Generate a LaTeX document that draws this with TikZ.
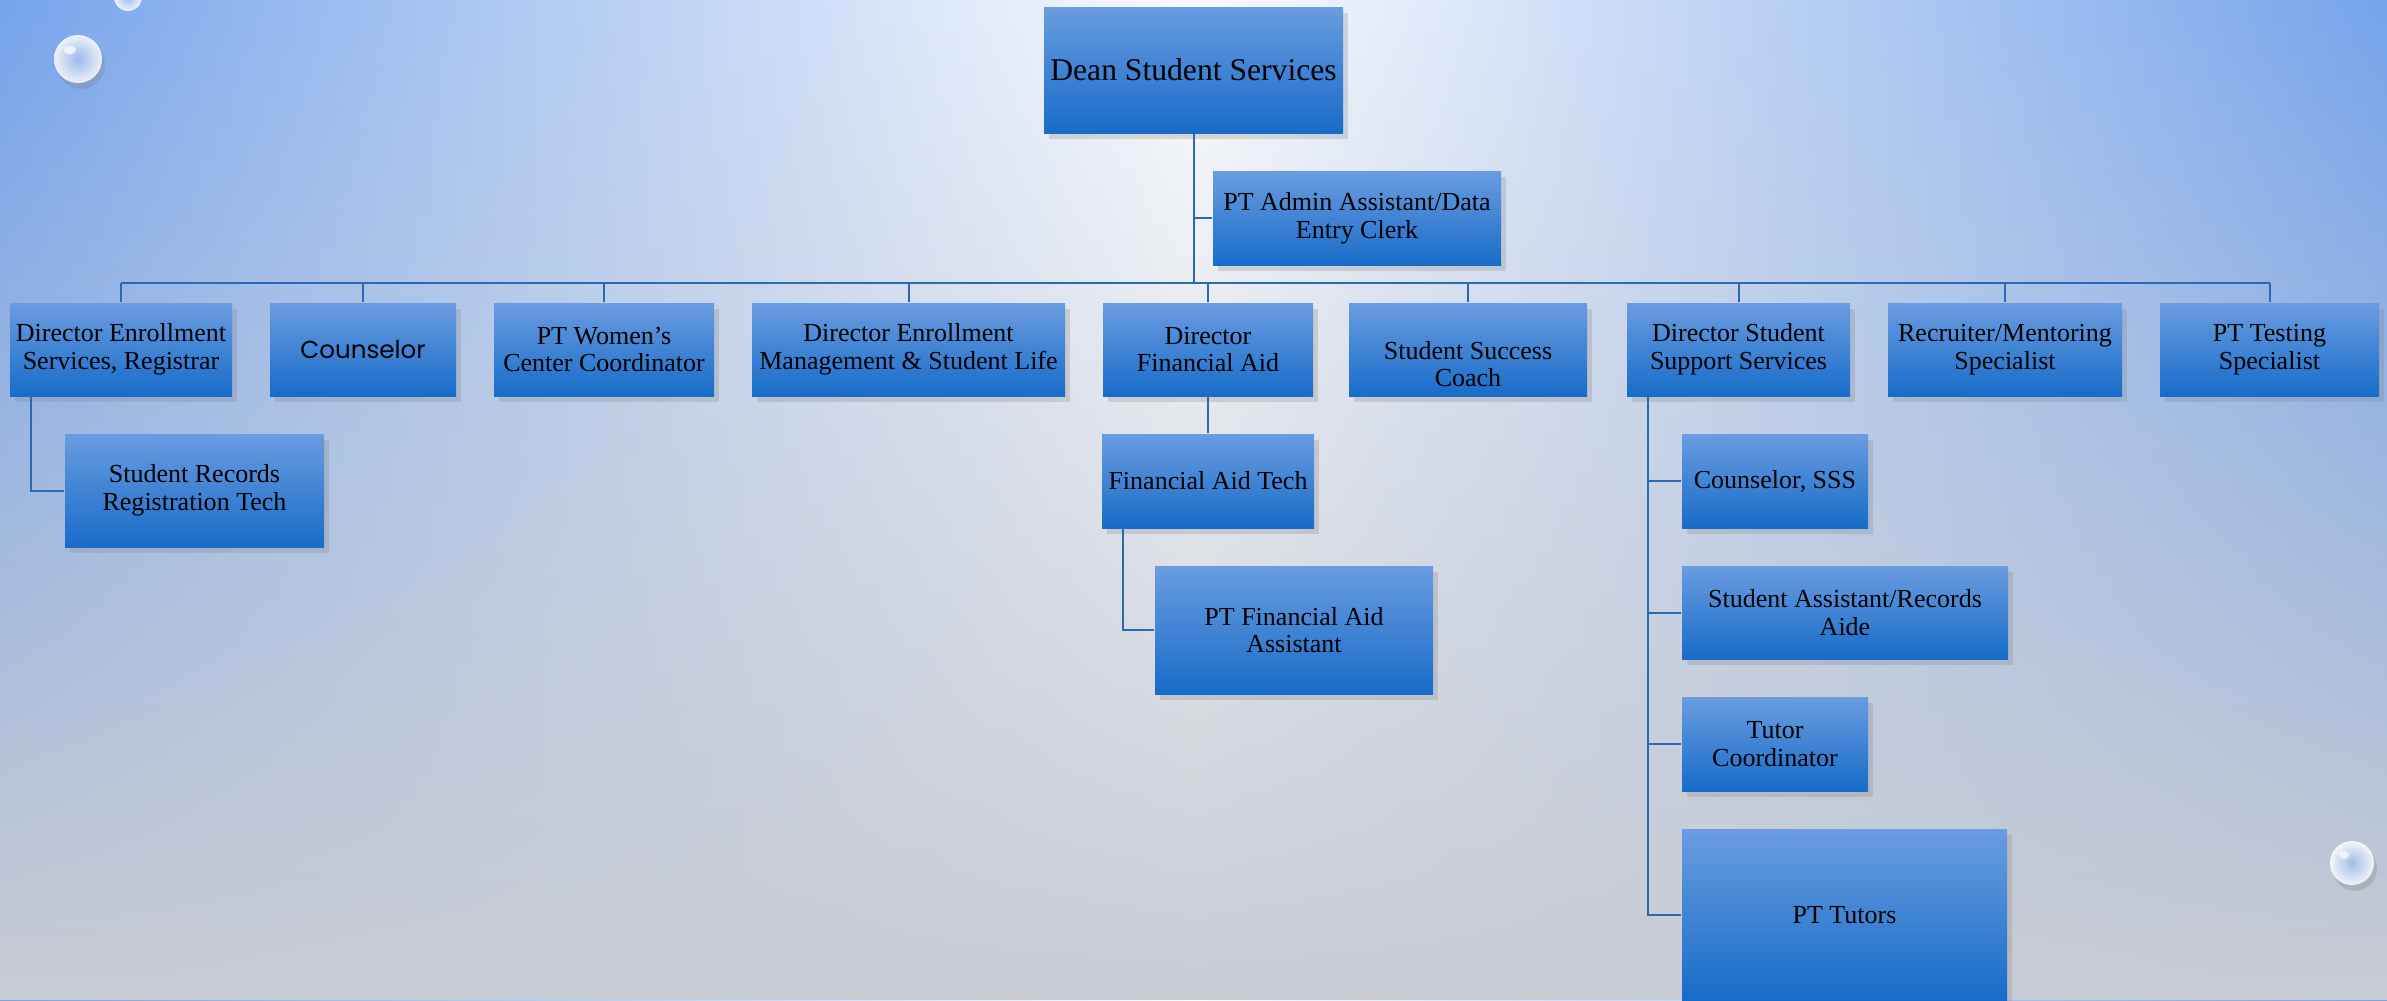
\documentclass[tikz,border=0pt]{standalone}
\usepackage{fontspec}
\setmainfont{Liberation Serif}
\newfontfamily\roundfont{Poppins}
\usetikzlibrary{shadows,fadings}
\definecolor{boxtop}{HTML}{6A9CE0}
\definecolor{boxbot}{HTML}{176CC9}
\definecolor{linkblue}{HTML}{2B69B2}
\definecolor{bgblue}{HTML}{76A4EC}
\definecolor{bggray}{HTML}{C9CCD3}
\tikzset{
  orgbox/.style={rectangle, inner sep=0pt, top color=boxtop, bottom color=boxbot,
    align=center, font=\fontsize{7.4pt}{7.9pt}\selectfont,
    drop shadow={shadow xshift=0.5mm, shadow yshift=-0.6mm, opacity=0.25}},
  link/.style={draw=linkblue, line width=0.2mm},
  drop/.style={inner color=bgblue!70!white, outer color=white, opacity=0.85}
}

\begin{document}
\begin{tikzpicture}[x=0.1mm,y=-0.1mm]
		%%%%% START %%%%%
		\clip (0,0) rectangle (2387,1000);
		\shade[left color=bgblue, right color=bgblue, middle color=white!96!bgblue] (0,0) rectangle (2387,1000);
		\fill[bggray, path fading=north] (0,0) rectangle (2387,1000);
		
		% drops
		\fill[black!50, opacity=0.3] (81,65) circle (24);
		\shade[drop] (78,59) circle (24);
		\fill[white, opacity=0.7] (70,50) ellipse (6 and 4);
		\shade[drop] (128,-3) circle (14);
		\fill[black!50, opacity=0.3] (2355,869) circle (22);
		\shade[drop] (2352,863) circle (22);
		\fill[white, opacity=0.7] (2344,855) ellipse (5 and 4);
		
		% top
		\node[orgbox, minimum width=29.9mm, minimum height=12.6mm, font=\fontsize{9pt}{10pt}\selectfont] (dean) at (1193.5,70) {Dean Student Services};
		\node[orgbox, minimum width=28.8mm, minimum height=9.4mm] (admin) at (1357,218) {PT Admin Assistant/Data\\Entry Clerk};
		\coordinate (bus) at (1193.5,283);
		
		% second row
		\node[orgbox, minimum width=22.2mm, minimum height=9.3mm] (esr) at (121,349.5) {Director Enrollment\\Services, Registrar};
		\node[orgbox, minimum width=18.6mm, minimum height=9.3mm, font=\roundfont\fontsize{7pt}{7.9pt}\selectfont] (cou) at (363,349.5) {Counselor};
		\node[orgbox, minimum width=22mm, minimum height=9.3mm] (wcc) at (604,349.5) {PT Women’s\\Center Coordinator};
		\node[orgbox, minimum width=31.3mm, minimum height=9.3mm] (ems) at (908.5,349.5) {Director Enrollment\\Management \& Student Life};
		\node[orgbox, minimum width=21mm, minimum height=9.3mm] (dfa) at (1208,349.5) {Director\\Financial Aid};
		\node[orgbox, minimum width=23.8mm, minimum height=9.3mm] (ssc) at (1468,349.5) {\strut\\Student Success\\Coach};
		\node[orgbox, minimum width=22.3mm, minimum height=9.3mm] (dss) at (1738.5,349.5) {Director Student\\Support Services};
		\node[orgbox, minimum width=23.4mm, minimum height=9.3mm] (rms) at (2005,349.5) {Recruiter/Mentoring\\Specialist};
		\node[orgbox, minimum width=21.9mm, minimum height=9.3mm] (pts) at (2269.5,349.5) {PT Testing\\Specialist};
		
		% third level
		\node[orgbox, minimum width=25.9mm, minimum height=11.3mm] (rec) at (194.5,490.5) {Student Records\\Registration Tech};
		\node[orgbox, minimum width=21.2mm, minimum height=9.4mm] (fat) at (1208,481) {Financial Aid Tech};
		\node[orgbox, minimum width=27.8mm, minimum height=12.8mm] (pfa) at (1294,630) {PT Financial Aid\\Assistant};
		\node[orgbox, minimum width=18.6mm, minimum height=9.4mm] (css) at (1775,481) {Counselor, SSS};
		\node[orgbox, minimum width=32.6mm, minimum height=9.3mm] (sar) at (1845,612.5) {Student Assistant/Records\\Aide};
		\node[orgbox, minimum width=18.6mm, minimum height=9.4mm] (tco) at (1775,744) {Tutor\\Coordinator};
		\node[orgbox, minimum width=32.5mm, minimum height=17.2mm] (ptt) at (1844.5,915) {PT Tutors};
		
		% connectors
		\coordinate (dssline) at ([xshift=2.2mm]dss.south west);
		\draw[link] (dean.south) -- (bus);
		\draw[link] (admin.west) -- (admin.west -| dean.south);
		\draw[link] (esr.north |- bus) -- (pts.north |- bus);
		\foreach \b in {esr,cou,wcc,ems,dfa,ssc,dss,rms,pts}
			\draw[link] (\b.north) -- (\b.north |- bus);
		\draw[link] ([xshift=2.2mm]esr.south west) |- (rec.west);
		\draw[link] (dfa.south) -- (fat.north);
		\draw[link] ([xshift=2.2mm]fat.south west) |- (pfa.west);
		\draw[link] (dssline) |- (ptt.west);
		\foreach \b in {css,sar,tco}
			\draw[link] (\b.west) -- (\b.west -| dssline);
		%%%%% END %%%%%
	\end{tikzpicture}
\end{document}
